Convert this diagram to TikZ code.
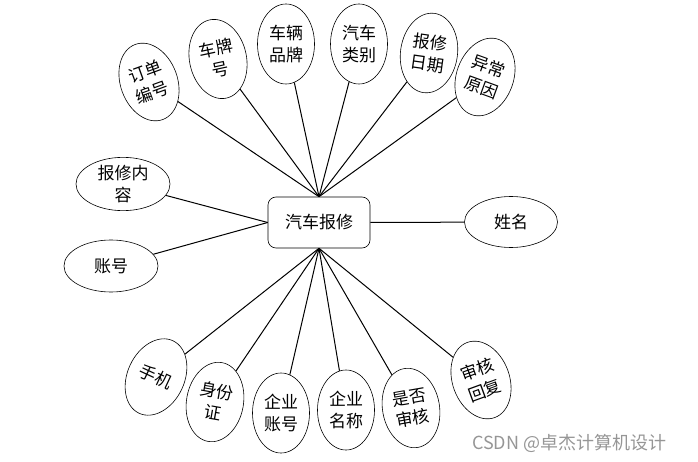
\documentclass[tikz,border=0pt]{standalone}
\usepackage{fontspec}
\setmainfont{Noto Sans CJK SC}
\usepackage{xcolor}
\usetikzlibrary{shapes.geometric,positioning}

\definecolor{markGray}{RGB}{150,150,150}

\tikzset{
  attr/.style={draw,ellipse,line width=0.6pt,inner sep=0pt,align=center,
               font=\fontsize{17}{22}\selectfont},
  tallattr/.style={attr,minimum width=57pt,minimum height=80pt},
  wideattr/.style={attr,minimum width=94pt,minimum height=52pt},
  entity/.style={draw,rounded corners=8pt,line width=0.6pt,
                 minimum width=102pt,minimum height=51pt,
                 font=\fontsize{17}{22}\selectfont},
  link/.style={line width=1pt}
}

\begin{document}
\begin{tikzpicture}[x=1pt,y=-1pt]
  \useasboundingbox (0,0) rectangle (698,462);

  % entity
  \node[entity] (bx) at (319,222.5) {汽车报修};

  % attributes above and below
  \foreach \nm/\x/\y/\rot/\txt in {
    ddbh/149/82/20/{订单\\编号},
    cph/218/59/12/{车牌\\号},
    clpp/286/44/0/{车辆\\品牌},
    qclb/359/44/0/{汽车\\类别},
    bxrq/429/53/-8/{报修\\日期},
    ycyy/485/77/-20/{异常\\原因},
    sj/156/377/-25/{手机},
    sfz/215/402/-10/{身份\\证},
    qyzh/281/413/0/{企业\\账号},
    qymc/346/410/0/{企业\\名称},
    sfsh/411/408/10/{是否\\审核},
    shhf/481/380/20/{审核\\回复}}{
    \node[tallattr,rotate=\rot] (\nm) at (\x,\y) {\txt};
  }

  % attributes left and right
  \node[wideattr] (bxnr) at (123,184) {报修内\\容};
  \node[wideattr] (zh) at (111,266) {账号};
  \node[wideattr,minimum width=93pt,minimum height=51pt] (xm) at (511,222) {姓名};

  % connectors
  \foreach \nm in {ddbh,cph,clpp,qclb,bxrq,ycyy}
    \draw[link] (\nm) -- (bx.north);
  \foreach \nm in {sj,sfz,qyzh,qymc,sfsh,shhf}
    \draw[link] (\nm) -- (bx.south);
  \draw[link] (bxnr) -- (bx.west);
  \draw[link] (zh) -- (bx.west);
  \draw[link] (xm) -- (bx.east);

  % watermark
  \node[font=\fontsize{18}{20}\selectfont,markGray,anchor=west,inner sep=0pt] (mark)
    at (472,443) {CSDN @卓杰计算机设计};
\end{tikzpicture}
\end{document}
